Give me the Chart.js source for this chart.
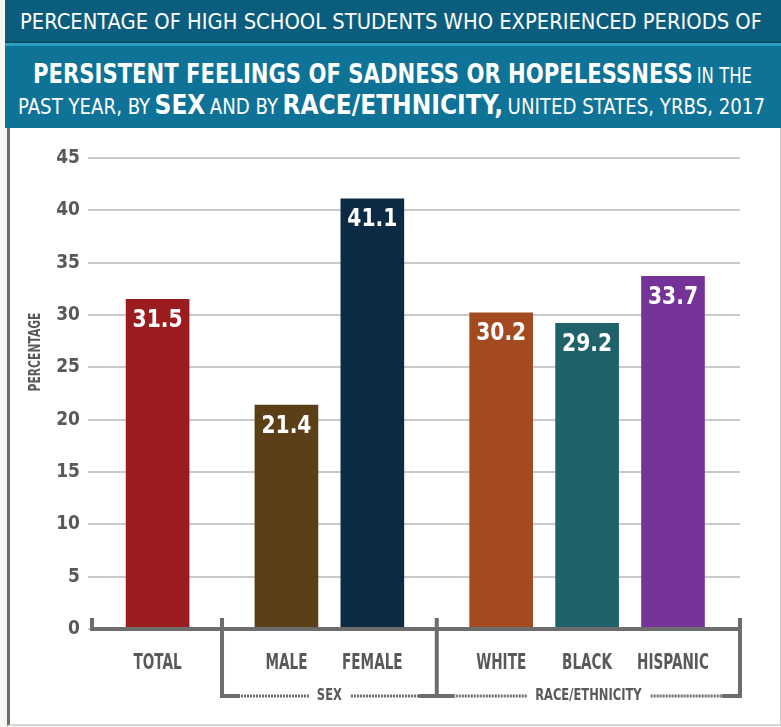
<!DOCTYPE html>
<html>
<head>
<meta charset="utf-8">
<script src="https://cdn.jsdelivr.net/npm/chart.js@4.4.1/dist/chart.umd.min.js"></script>
<style>
  html, body { margin: 0; padding: 0; background: #f6f6f2; }
  #wrap { position: relative; width: 781px; height: 727px; overflow: hidden; }
  #panel {
    position: absolute; left: 7px; top: 128px; width: 770px; height: 596px;
    background: #fff; border-left: 3px solid #6b6b6b;
    border-right: 1px solid #cfcfcf; border-bottom: 2px solid #d6d6d6;
  }
  #chart { position: absolute; left: 0; top: 0; }
  .hdr { position: absolute; left: 5px; width: 776px; color: #fff;
    font-family: "DejaVu Sans Condensed", "Liberation Sans", sans-serif; white-space: nowrap; }
  #band1 { top: 0; height: 41px; background: #0b5d7e; }
  #sep1 { top: 41px; height: 2px; background: #084c68; }
  #sep2 { top: 43px; height: 3px; background: #2b9ec2; }
  #band2 { top: 46px; height: 82px; background: #0f7398; }
  .line { position: absolute; left: 0; white-space: nowrap; transform-origin: 0 0; }
  .sm { font-size: 21px; }
  .bg { font-size: 27px; font-weight: bold; }
</style>
</head>
<body>
<div id="wrap">
  <div class="hdr" id="band1"><div class="line sm" data-x="15" data-w="742" style="top:10px;">PERCENTAGE OF HIGH SCHOOL STUDENTS WHO EXPERIENCED PERIODS OF</div></div>
  <div class="hdr" id="sep1"></div>
  <div class="hdr" id="sep2"></div>
  <div class="hdr" id="band2">
    <div class="line" data-x="28" data-w="719" style="top:12px;"><span class="bg">PERSISTENT FEELINGS OF SADNESS OR HOPELESSNESS</span> <span class="sm">IN THE</span></div>
    <div class="line" data-x="13" data-w="747" style="top:43px;"><span class="sm">PAST YEAR, BY</span> <span class="bg">SEX</span> <span class="sm">AND BY</span> <span class="bg">RACE/ETHNICITY,</span> <span class="sm">UNITED STATES, YRBS, 2017</span></div>
  </div>
  <div id="panel"></div>
  <canvas id="chart" width="781" height="727"></canvas>
</div>
<script>
// Data
const categories = ['TOTAL', 'MALE', 'FEMALE', 'WHITE', 'BLACK', 'HISPANIC'];
const values = [31.5, 21.4, 41.1, 30.2, 29.2, 33.7];
const groupOf = [0, 1, 1, 2, 2, 2];
const groupNames = ['', 'SEX', 'RACE/ETHNICITY'];
const yTicks = [0, 5, 10, 15, 20, 25, 30, 35, 40, 45];
const barColors = ['#9b1c1f', '#5a3f17', '#0c2a44', '#a34a20', '#1f6269', '#753399'];

const FONT = '"DejaVu Sans Condensed", "Liberation Sans", sans-serif';
const GRAY = '#595959';
const AXIS = '#6d6d6d';

// squeeze header lines to the width of the condensed original
document.querySelectorAll('.line').forEach(el => {
  const w = el.getBoundingClientRect().width;
  el.style.left = el.dataset.x + 'px';
  el.style.transform = 'scaleX(' + (el.dataset.w / w) + ')';
});

// bar centres: one unit per bar, half a unit extra between groups
const xPos = categories.map((c, i) => i + groupOf[i] * 0.5);

// condensed text helper
function squeezeText(ctx, text, x, y, sx) {
  ctx.save();
  ctx.translate(x, y);
  ctx.scale(sx, 1);
  ctx.fillText(text, 0, 0);
  ctx.restore();
}

// Value labels inside the bar tops
const valueLabels = {
  id: 'valueLabels',
  afterDatasetsDraw(chart) {
    const ctx = chart.ctx;
    const meta = chart.getDatasetMeta(0);
    ctx.save();
    ctx.fillStyle = '#fff';
    ctx.font = 'bold 25px ' + FONT;
    ctx.textAlign = 'center';
    ctx.textBaseline = 'middle';
    meta.data.forEach((bar, i) => {
      squeezeText(ctx, values[i].toFixed(1), bar.x, bar.y + 21, 0.9);
    });
    ctx.restore();
  }
};

// Baseline, category names, group brackets and y title
const groupAxis = {
  id: 'groupAxis',
  afterDraw(chart) {
    const ctx = chart.ctx;
    const area = chart.chartArea;
    const xs = chart.scales.x;
    const y0 = chart.scales.y.getPixelForValue(0);
    const tickTop = y0 - 11;
    const bracketY = y0 + 67;

    // boundaries between groups
    const bounds = [area.left + 4];
    for (let i = 1; i < categories.length; i++) {
      if (groupOf[i] !== groupOf[i - 1]) {
        bounds.push((xs.getPixelForValue(xPos[i - 1]) + xs.getPixelForValue(xPos[i])) / 2);
      }
    }
    bounds.push(area.right);

    ctx.save();
    ctx.strokeStyle = AXIS;
    ctx.lineWidth = 4;
    ctx.lineCap = 'butt';
    ctx.beginPath();
    ctx.moveTo(bounds[0] - 2, y0);
    ctx.lineTo(area.right + 2, y0);
    ctx.stroke();

    ctx.beginPath();
    bounds.forEach((bx, i) => {
      ctx.moveTo(bx, tickTop);
      ctx.lineTo(bx, i === 0 ? y0 : bracketY + 2);
    });
    ctx.stroke();

    ctx.textAlign = 'center';
    ctx.textBaseline = 'middle';

    // category names
    ctx.fillStyle = GRAY;
    ctx.font = 'bold 21px ' + FONT;
    categories.forEach((c, i) => {
      squeezeText(ctx, c, xs.getPixelForValue(xPos[i]), y0 + 35, 0.72);
    });

    // group labels with dotted leaders
    ctx.font = 'bold 16px ' + FONT;
    for (let g = 1; g < bounds.length - 1; g++) {
      const a = bounds[g];
      const b = bounds[g + 1];
      const mid = (a + b) / 2;
      const name = groupNames[g];
      const tw = ctx.measureText(name).width * 0.8;
      ctx.fillStyle = GRAY;
      squeezeText(ctx, name, mid, bracketY, 0.8);

      ctx.strokeStyle = AXIS;
      ctx.lineWidth = 4;
      ctx.beginPath();
      ctx.moveTo(a, bracketY);
      ctx.lineTo(a + 18, bracketY);
      ctx.moveTo(b - 18, bracketY);
      ctx.lineTo(b, bracketY);
      ctx.stroke();

      ctx.fillStyle = AXIS;
      const drawDots = (from, to) => {
        for (let x = from; x < to; x += 3) ctx.fillRect(x, bracketY - 1.5, 2, 3);
      };
      drawDots(a + 19, mid - tw / 2 - 9);
      drawDots(mid + tw / 2 + 9, b - 19);
    }

    // y title
    ctx.translate(36, 352);
    ctx.rotate(-Math.PI / 2);
    ctx.fillStyle = GRAY;
    ctx.font = 'bold 15px ' + FONT;
    squeezeText(ctx, 'PERCENTAGE', 0, 0, 0.8);
    ctx.restore();
  }
};

new Chart(document.getElementById('chart'), {
  type: 'bar',
  data: {
    datasets: [{
      data: xPos.map((x, i) => ({ x, y: values[i] })),
      backgroundColor: barColors,
      borderWidth: 0,
      barThickness: 63
    }]
  },
  options: {
    responsive: false,
    animation: false,
    events: [],
    layout: { padding: { top: 158, right: 41, left: 0, bottom: 0 } },
    scales: {
      x: {
        type: 'linear',
        offset: false,
        min: -0.81,
        max: 6.78,
        afterFit: s => { s.height = 98; },
        grid: { display: false },
        border: { display: false },
        ticks: { display: false }
      },
      y: {
        min: 0,
        max: 45,
        afterFit: s => { s.width = 88; },
        afterBuildTicks: s => { s.ticks = yTicks.map(v => ({ value: v })); },
        grid: { color: '#c9c9c9', lineWidth: 2, drawTicks: false },
        border: { display: false },
        ticks: {
          padding: 8,
          color: GRAY,
          font: { family: FONT, size: 19, weight: 'bold' }
        }
      }
    },
    plugins: {
      legend: { display: false },
      tooltip: { enabled: false }
    }
  },
  plugins: [valueLabels, groupAxis]
});
</script>
</body>
</html>
